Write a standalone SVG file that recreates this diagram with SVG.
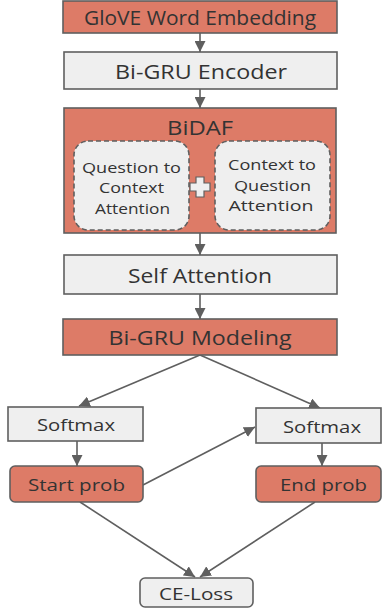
<svg xmlns="http://www.w3.org/2000/svg" width="382" height="608" viewBox="0 0 382 608">
<defs>
<style>
.red{fill:#dd7b67;stroke:#5f5f5f;stroke-width:1.6}
.grey{fill:#efefef;stroke:#5f5f5f;stroke-width:1.6}
.inner{fill:#efefef;stroke:#5f5f5f;stroke-width:1.6;stroke-dasharray:5 3}
text{font-family:"Open Sans","Noto Sans","Liberation Sans",sans-serif;fill:#333333;text-anchor:middle;dominant-baseline:central}
.l{font-size:20px}
.m{font-size:17px}
.s{font-size:15px}
.c{stroke:#5f5f5f;stroke-width:1.6;fill:none;marker-end:url(#ah)}
</style>
<marker id="ah" viewBox="0 0 10 10" refX="10" refY="5" markerWidth="11" markerHeight="11" markerUnits="userSpaceOnUse" orient="auto">
<path d="M0,0 L10,5 L0,10 z" fill="#5f5f5f"/>
</marker>
</defs>
<rect width="382" height="608" fill="#ffffff"/>
<g id="connectors">
<line class="c" x1="200" y1="33" x2="200" y2="52"/>
<line class="c" x1="200" y1="89" x2="200" y2="108"/>
<line class="c" x1="200" y1="233" x2="200" y2="255"/>
<line class="c" x1="200" y1="294" x2="200" y2="319"/>
<line class="c" x1="200" y1="355" x2="79" y2="406"/>
<line class="c" x1="200" y1="355" x2="320" y2="408"/>
<line class="c" x1="77" y1="441" x2="77" y2="466"/>
<line class="c" x1="322" y1="443" x2="322" y2="466"/>
<line class="c" x1="143" y1="485" x2="255" y2="427"/>
<line class="c" x1="80" y1="502" x2="195" y2="577"/>
<line class="c" x1="315" y1="502" x2="200" y2="577"/>
</g>
<g id="glove">
<rect class="red" x="63" y="1" width="274" height="32"/>
<text class="l" x="200" y="17" textLength="232" lengthAdjust="spacingAndGlyphs">GloVE Word Embedding</text>
</g>
<g id="encoder">
<rect class="grey" x="64" y="52" width="273" height="37"/>
<text class="l" x="201" y="71" textLength="172" lengthAdjust="spacingAndGlyphs">Bi-GRU Encoder</text>
</g>
<g id="bidaf">
<rect class="red" x="64" y="108" width="272" height="125"/>
<text class="l" x="200" y="127" textLength="66" lengthAdjust="spacingAndGlyphs">BiDAF</text>
</g>
<g id="q2c">
<rect class="inner" x="74" y="141" width="115" height="89" rx="14"/>
<text class="s" x="131.5" y="167" textLength="99" lengthAdjust="spacingAndGlyphs">Question to</text>
<text class="s" x="131.5" y="187" textLength="65" lengthAdjust="spacingAndGlyphs">Context</text>
<text class="s" x="132.5" y="208" textLength="75" lengthAdjust="spacingAndGlyphs">Attention</text>
</g>
<g id="plus">
<path d="M196,177 h8 v6 h6 v8 h-6 v6 h-8 v-6 h-6 v-8 h6 z" fill="#efefef" stroke="#5f5f5f" stroke-width="1.2"/>
</g>
<g id="c2q">
<rect class="inner" x="215" y="141" width="115" height="89" rx="14"/>
<text class="s" x="272" y="164" textLength="88" lengthAdjust="spacingAndGlyphs">Context to</text>
<text class="s" x="272.5" y="184.5" textLength="77" lengthAdjust="spacingAndGlyphs">Question</text>
<text class="s" x="271" y="205" textLength="85" lengthAdjust="spacingAndGlyphs">Attention</text>
</g>
<g id="selfatt">
<rect class="grey" x="64" y="255" width="273" height="39"/>
<text class="l" x="200" y="275" textLength="144" lengthAdjust="spacingAndGlyphs">Self Attention</text>
</g>
<g id="modeling">
<rect class="red" x="63" y="319" width="274" height="36"/>
<text class="l" x="200" y="337" textLength="183" lengthAdjust="spacingAndGlyphs">Bi-GRU Modeling</text>
</g>
<g id="softmax1">
<rect class="grey" x="8" y="407" width="135" height="34"/>
<text class="m" x="76" y="424" textLength="78" lengthAdjust="spacingAndGlyphs">Softmax</text>
</g>
<g id="softmax2">
<rect class="grey" x="256" y="408" width="125" height="35"/>
<text class="m" x="322" y="426" textLength="78" lengthAdjust="spacingAndGlyphs">Softmax</text>
</g>
<g id="startprob">
<rect class="red" x="10" y="466" width="133" height="36" rx="5"/>
<text class="m" x="76.5" y="484" textLength="97" lengthAdjust="spacingAndGlyphs">Start prob</text>
</g>
<g id="endprob">
<rect class="red" x="256" y="466" width="125" height="36" rx="5"/>
<text class="m" x="323.5" y="484" textLength="87" lengthAdjust="spacingAndGlyphs">End prob</text>
</g>
<g id="celoss">
<rect class="grey" x="140" y="578" width="113" height="29" rx="5"/>
<text class="m" x="196" y="593" textLength="74" lengthAdjust="spacingAndGlyphs">CE-Loss</text>
</g>
</svg>
